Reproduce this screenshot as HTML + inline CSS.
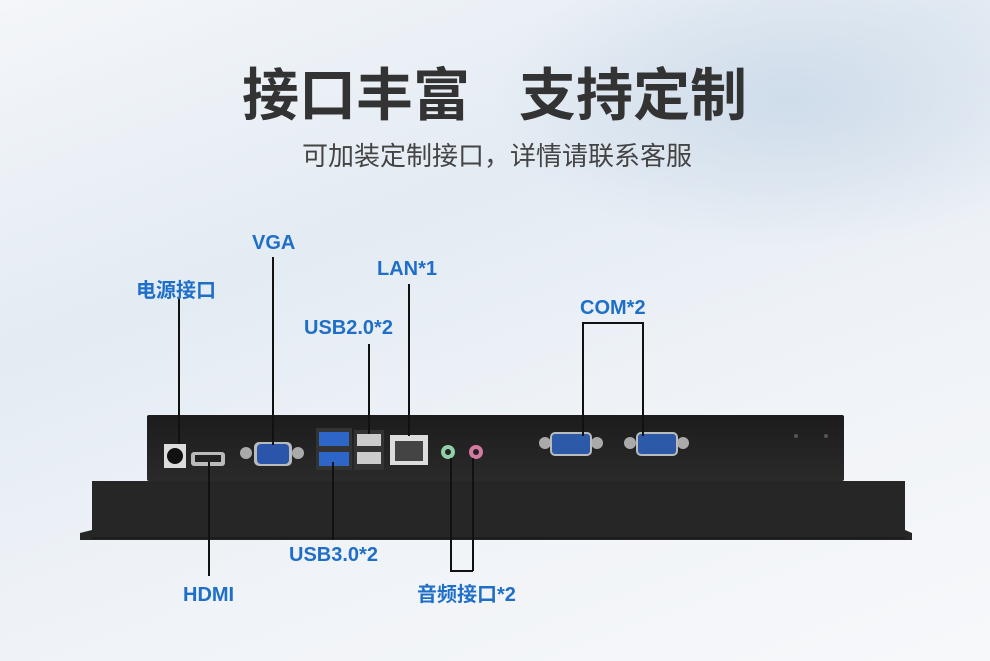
<!DOCTYPE html>
<html><head><meta charset="utf-8"><style>
body{margin:0}
#c{position:relative;width:990px;height:661px;overflow:hidden;font-family:"Liberation Sans","Noto Sans CJK SC",sans-serif;
background:linear-gradient(160deg,#f4f6f9 0%,#e3ebf3 35%,#eef2f7 60%,#f7f8fa 100%);}
.t{position:absolute;white-space:nowrap}
.l{position:absolute;color:#1f6fc8;font-weight:bold;font-size:20px;white-space:nowrap}
.v{position:absolute;width:1.5px;background:#111}
.h{position:absolute;height:1.5px;background:#111}
</style></head><body><div id="c">
<div style="position:absolute;right:-100px;top:-50px;width:600px;height:300px;background:radial-gradient(ellipse,#cfdcea 0%,rgba(220,230,240,0) 70%)"></div>
<div class="t" style="left:242px;top:50px;font-size:57px;font-weight:bold;color:#333">接口丰富<span style="display:inline-block;width:49px"></span>支持定制</div>
<div class="t" style="left:302px;top:136px;font-size:26px;color:#444">可加装定制接口，详情请联系客服</div>

<div style="position:absolute;left:147px;top:415px;width:697px;height:66px;background:linear-gradient(#1c1c1c,#2a2a2a);border-radius:2px"></div>
<svg style="position:absolute;left:0;top:0" width="990" height="661">
<polygon points="92,481 905,481 905,530 912,533 912,540 80,540 80,533 92,530" fill="#262626"/>
<line x1="92" y1="538" x2="905" y2="538" stroke="#111"/>
<rect x="164" y="444" width="22" height="24" fill="#ddd"/><circle cx="175" cy="456" r="8" fill="#111"/>
<rect x="191" y="452" width="34" height="14" rx="3" fill="#bbb"/><rect x="195" y="455" width="26" height="7" fill="#222"/>
<circle cx="246" cy="453" r="6" fill="#aaa"/><circle cx="298" cy="453" r="6" fill="#aaa"/>
<rect x="254" y="442" width="38" height="24" rx="5" fill="#bbb"/><rect x="257" y="444" width="32" height="20" rx="4" fill="#2a55a8"/>
<rect x="316" y="428" width="36" height="42" fill="#333"/>
<rect x="319" y="432" width="30" height="14" fill="#2e66c8"/><rect x="319" y="452" width="30" height="14" fill="#2e66c8"/>
<rect x="354" y="430" width="30" height="40" fill="#333"/>
<rect x="357" y="434" width="24" height="12" fill="#ccc"/><rect x="357" y="452" width="24" height="12" fill="#ccc"/>
<rect x="390" y="435" width="38" height="30" fill="#ddd"/><rect x="395" y="441" width="28" height="20" fill="#444"/>
<circle cx="448" cy="452" r="7" fill="#8fd0a8"/><circle cx="448" cy="452" r="3" fill="#222"/>
<circle cx="476" cy="452" r="7" fill="#d47aa0"/><circle cx="476" cy="452" r="3" fill="#222"/>
<g fill="#aaa"><circle cx="545" cy="443" r="6"/><circle cx="597" cy="443" r="6"/><circle cx="630" cy="443" r="6"/><circle cx="683" cy="443" r="6"/></g>
<rect x="551" y="433" width="40" height="22" rx="4" fill="#2c5aa8" stroke="#bbb" stroke-width="2"/>
<rect x="637" y="433" width="40" height="22" rx="4" fill="#2c5aa8" stroke="#bbb" stroke-width="2"/>
<circle cx="796" cy="436" r="2" fill="#555"/><circle cx="826" cy="436" r="2" fill="#555"/>
</svg>

<div class="v" style="left:178px;top:298px;height:146px"></div>
<div class="v" style="left:272px;top:257px;height:188px"></div>
<div class="v" style="left:408px;top:284px;height:152px"></div>
<div class="v" style="left:368px;top:344px;height:90px"></div>
<div class="h" style="left:582px;top:322px;width:61px"></div>
<div class="v" style="left:582px;top:322px;height:114px"></div>
<div class="v" style="left:642px;top:322px;height:114px"></div>
<div class="v" style="left:208px;top:462px;height:114px"></div>
<div class="v" style="left:332px;top:462px;height:78px"></div>
<div class="v" style="left:450px;top:458px;height:113px"></div>
<div class="v" style="left:472px;top:458px;height:113px"></div>
<div class="h" style="left:450px;top:570px;width:23px"></div>

<div class="l" style="left:136px;top:274px">电源接口</div>
<div class="l" style="left:252px;top:232px">VGA</div>
<div class="l" style="left:377px;top:258px">LAN*1</div>
<div class="l" style="left:304px;top:317px">USB2.0*2</div>
<div class="l" style="left:580px;top:297px">COM*2</div>
<div class="l" style="left:183px;top:584px">HDMI</div>
<div class="l" style="left:289px;top:544px">USB3.0*2</div>
<div class="l" style="left:417px;top:578px">音频接口*2</div>
</div></body></html>
